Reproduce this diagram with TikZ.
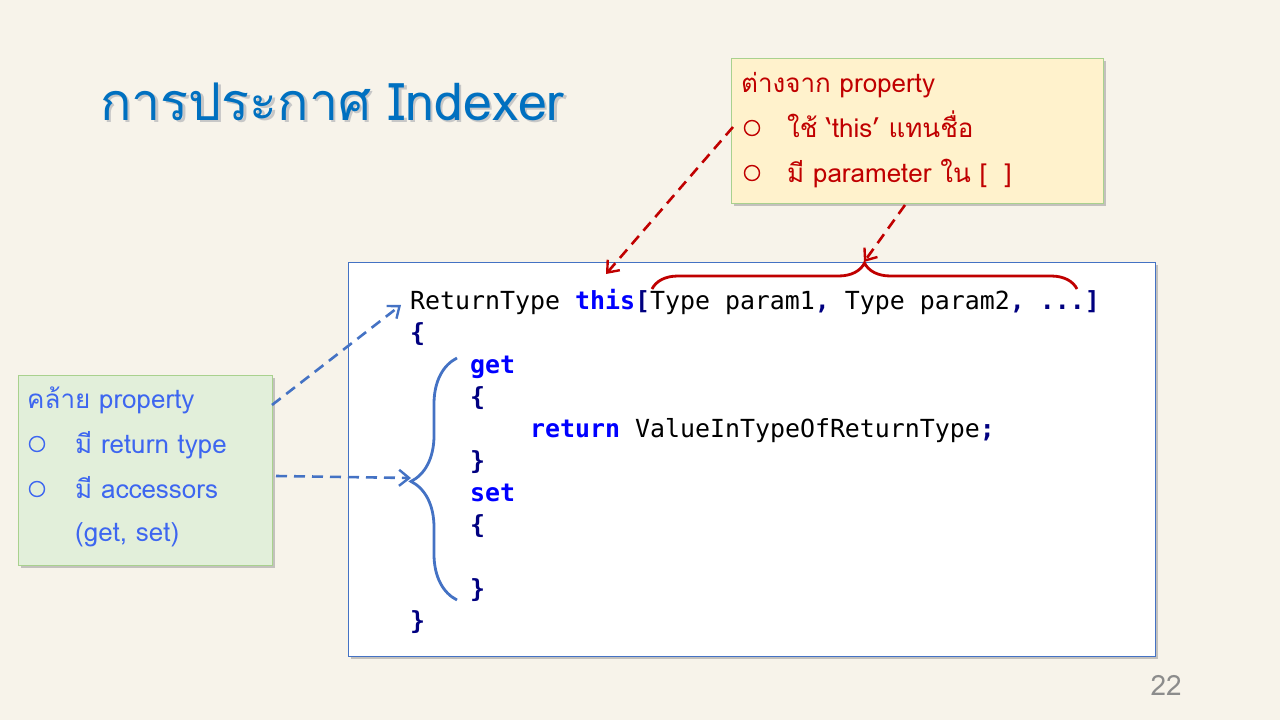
\documentclass[tikz,border=0pt]{standalone}
\usepackage{fontspec}
\usetikzlibrary{arrows.meta,decorations.pathreplacing,shadows}
\newfontfamily\thai[Script=Thai]{Loma}
\newfontfamily\codefont{DejaVu Sans Mono}
\definecolor{bg}{HTML}{F7F3EA}
\definecolor{titleblue}{HTML}{0070C0}
\definecolor{redtxt}{HTML}{C00000}
\definecolor{bluetxt}{HTML}{3D66F0}
\definecolor{arrowblue}{HTML}{4472C4}
\definecolor{kw}{HTML}{0000FF}
\definecolor{navy}{HTML}{000080}
\definecolor{yellowbox}{HTML}{FFF2CC}
\definecolor{greenbox}{HTML}{E2EFDA}
\definecolor{greenborder}{HTML}{A9D18E}
\newcommand{\kwd}[1]{\textcolor{kw}{\bfseries #1}}
\newcommand{\pun}[1]{\textcolor{navy}{\bfseries #1}}
\begin{document}
\begin{tikzpicture}[x=1pt,y=-1pt,
  callout/.style={draw=greenborder, line width=0.9pt, drop shadow={shadow xshift=3pt,shadow yshift=-3pt,fill=black!40,opacity=0.55}},
  txt/.style={anchor=base west, inner sep=0pt, font=\thai\fontsize{26}{30}\selectfont},
  code/.style={anchor=base west, inner sep=0pt, font=\codefont\fontsize{24.9}{30}\selectfont},
  bull/.style={circle, draw, line width=1.4pt, minimum size=15pt, inner sep=0pt},
  redarrow/.style={draw=redtxt, line width=2.6pt, dash pattern=on 11pt off 7pt, -{Straight Barb[length=10pt,width=16pt,line width=2.4pt]}},
  bluearrow/.style={draw=arrowblue, line width=2.6pt, dash pattern=on 11pt off 7pt, -{Straight Barb[length=10pt,width=16pt,line width=2.4pt]}},
  bracestyle/.style={line width=2.8pt, decorate}
]
\useasboundingbox (0,0) rectangle (1280,720);
\fill[bg] (0,0) rectangle (1280,720);

% title
\node[anchor=base west, inner sep=0pt, text=black!22, font=\thai\fontsize{52}{60}\selectfont] at (102.5,122.5) {การประกาศ Indexer};
\node[anchor=base west, inner sep=0pt, text=titleblue, font=\thai\fontsize{52}{60}\selectfont] (title) at (100,120) {การประกาศ Indexer};

% code box
\path[draw=arrowblue, line width=0.9pt, fill=white, drop shadow={shadow xshift=3pt,shadow yshift=-3pt,fill=black!40,opacity=0.55}] (348,262) rectangle (1155,656);

\node[code] (l1) at (410,309) {ReturnType \kwd{this}\pun{[}Type param1\pun{,} Type param2\pun{, ...]}};
\node[code] (l2) at (410,341) {\pun{\{}};
\node[code] (l3) at (470,373) {\kwd{get}};
\node[code] (l4) at (470,405) {\pun{\{}};
\node[code] (l5) at (530,437) {\kwd{return} ValueInTypeOfReturnType\pun{;}};
\node[code] (l6) at (470,469) {\pun{\}}};
\node[code] (l7) at (470,501) {\kwd{set}};
\node[code] (l8) at (470,533) {\pun{\{}};
\node[code] (l10) at (470,597) {\pun{\}}};
\node[code] (l11) at (410,629) {\pun{\}}};

% braces
\draw[redtxt, bracestyle, decoration={brace, amplitude=26pt, aspect=0.5}] (652,289) -- (1077,289);
\coordinate (redtip) at (864,262);
\draw[arrowblue, bracestyle, decoration={brace, amplitude=46pt, aspect=0.49}] (457,600) -- (457,358);
\coordinate (bluetip) at (411,478);

% top-right callout
\path[fill=yellowbox, callout] (731,58) rectangle (1103,203);
\node[txt, text=redtxt] (r0) at (741,92) {ต่างจาก property};
\node[bull, draw=redtxt] (rb1) at (752,128) {};
\node[txt, text=redtxt] (r1) at (787,137) {ใช้ ‘this’ แทนชื่อ};
\node[bull, draw=redtxt] (rb2) at (752,173) {};
\node[txt, text=redtxt] (r2) at (787,182) {มี parameter ใน [~~]};
\coordinate (rA) at (733,127);
\coordinate (rB) at (905,205);

% left callout
\path[fill=greenbox, callout] (18,375) rectangle (272,565);
\node[txt, text=bluetxt] (g0) at (27,408) {คล้าย property};
\node[bull, draw=bluetxt] (gb1) at (37,444) {};
\node[txt, text=bluetxt] (g1) at (75,453) {มี return type};
\node[bull, draw=bluetxt] (gb2) at (37,489) {};
\node[txt, text=bluetxt] (g2) at (75,498) {มี accessors};
\node[txt, text=bluetxt] (g3) at (75,541) {(get, set)};
\coordinate (gA) at (272,405);
\coordinate (gB) at (276,476);

% arrows
\coordinate (thisPt) at (606,274);
\coordinate (l1W) at (401,305);
\draw[redarrow] (rA) -- (thisPt);
\draw[redarrow] (rB) -- (redtip);
\draw[bluearrow] (gA) -- (l1W);
\draw[bluearrow] (gB) -- (bluetip);

% page number
\node[anchor=base east, inner sep=0pt, text=black!45, font=\thai\fontsize{28}{32}\selectfont] (pg) at (1182,695) {22};
\end{tikzpicture}
\end{document}
